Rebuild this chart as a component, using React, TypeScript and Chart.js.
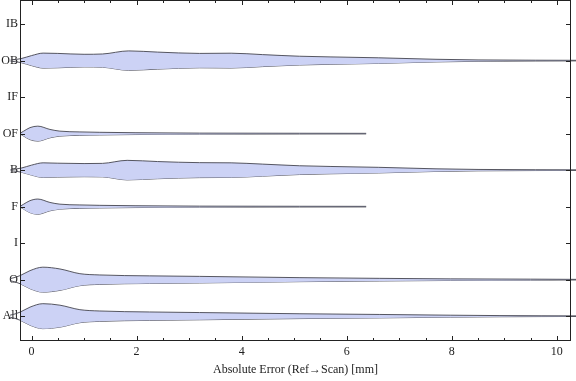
import React, { useEffect, useRef } from 'react';
import { Chart, registerables } from 'chart.js';

Chart.register(...registerables);

// Categories from bottom (value 1) to top (value 9)
const categories = ['All', 'O', 'I', 'F', 'B', 'OF', 'IF', 'OB', 'IB'];
const xTickValues = [0, 2, 4, 6, 8, 10];
const xMinorStep = 0.5;
const xTitle = 'Absolute Error (Ref\u2192Scan) [mm]';

// Violin outlines: x positions (mm) and half-widths (in category units)
const obX = [-0.6, -0.4, -0.2, 0.0, 0.22, 0.5, 1.0, 1.35, 1.85, 2.4, 3.2, 3.8, 4.4, 5.1, 5.7, 6.6, 7.7, 8.5, 9.6, 10.4];
const obW = [0.008, 0.016, 0.055, 0.137, 0.205, 0.197, 0.173, 0.181, 0.266, 0.233, 0.197, 0.203, 0.164, 0.12, 0.101, 0.077, 0.036, 0.019, 0.011, 0.008];

const ofX = [-0.22, -0.15, -0.03, 0.12, 0.35, 0.54, 0.92, 1.3, 1.97, 3.2, 5.1, 6.37];
const ofW = [0.008, 0.068, 0.164, 0.205, 0.115, 0.068, 0.047, 0.036, 0.025, 0.014, 0.01, 0.008];

const bX = [-0.6, -0.4, -0.2, 0.0, 0.22, 0.5, 1.0, 1.35, 1.82, 2.4, 3.2, 3.8, 4.4, 5.1, 5.7, 6.6, 7.7, 8.5, 9.6, 10.4];
const bW = [0.008, 0.016, 0.055, 0.137, 0.2, 0.19, 0.18, 0.185, 0.268, 0.235, 0.205, 0.2, 0.165, 0.12, 0.1, 0.077, 0.036, 0.019, 0.011, 0.008];

const fX = [-0.22, -0.15, -0.03, 0.12, 0.35, 0.54, 0.92, 1.3, 1.97, 3.2, 5.1, 6.37];
const fW = [0.008, 0.068, 0.164, 0.208, 0.115, 0.068, 0.047, 0.036, 0.025, 0.014, 0.01, 0.008];

const oX = [-0.6, -0.41, -0.22, -0.03, 0.215, 0.54, 0.92, 1.3, 2.25, 3.2, 5.11, 6.63, 7.97, 9.5, 10.4];
const oW = [0.008, 0.027, 0.11, 0.247, 0.342, 0.293, 0.164, 0.129, 0.104, 0.09, 0.055, 0.036, 0.022, 0.014, 0.008];

const allX = [-0.6, -0.41, -0.22, -0.03, 0.215, 0.54, 0.92, 1.3, 2.25, 3.2, 5.11, 6.63, 7.97, 8.9, 9.7, 10.4];
const allW = [0.008, 0.027, 0.11, 0.247, 0.342, 0.301, 0.178, 0.142, 0.115, 0.099, 0.066, 0.047, 0.027, 0.016, 0.011, 0.008];

const violins = [
  { cat: 'OB', xs: obX, ws: obW },
  { cat: 'OF', xs: ofX, ws: ofW },
  { cat: 'B', xs: bX, ws: bW },
  { cat: 'F', xs: fX, ws: fW },
  { cat: 'O', xs: oX, ws: oW },
  { cat: 'All', xs: allX, ws: allW },
];

const FILL = 'rgb(204,210,245)';
const EDGE = 'rgba(70,70,80,0.9)';
const FONT = "'Liberation Serif', 'Times New Roman', serif";
const TEXT = '#222';

const framePlugin = {
  id: 'frame',
  afterDraw(chart: any) {
    const { ctx, chartArea: a, scales } = chart;
    const xs = scales.x;
    const ys = scales.y;
    const L = Math.round(a.left) + 0.5;
    const R = Math.round(a.right) - 0.5;
    const T = Math.round(a.top) + 0.5;
    const B = Math.round(a.bottom) - 0.5;
    ctx.save();
    ctx.strokeStyle = '#222';
    ctx.lineWidth = 1;
    ctx.strokeRect(L, T, R - L, B - T);
    ctx.beginPath();
    const first = xTickValues[0];
    const last = xTickValues[xTickValues.length - 1];
    for (let v = first; v <= last + 1e-9; v += xMinorStep) {
      const major = xTickValues.some((t) => Math.abs(t - v) < 1e-9);
      const len = major ? 4.5 : 2.5;
      const px = Math.round(xs.getPixelForValue(v)) + 0.5;
      ctx.moveTo(px, B);
      ctx.lineTo(px, B - len);
      ctx.moveTo(px, T);
      ctx.lineTo(px, T + len);
    }
    categories.forEach((_, i) => {
      const py = Math.round(ys.getPixelForValue(i + 1)) + 0.5;
      ctx.moveTo(L, py);
      ctx.lineTo(L + 4.5, py);
      ctx.moveTo(R, py);
      ctx.lineTo(R - 4.5, py);
    });
    ctx.stroke();
    ctx.restore();
  },
};

export default function App() {
  const ref = useRef<HTMLCanvasElement | null>(null);

  useEffect(() => {
    if (!ref.current) return;
    const datasets: any[] = [];
    violins.forEach((v) => {
      const c = categories.indexOf(v.cat) + 1;
      const common = {
        borderColor: EDGE,
        borderWidth: 1,
        pointRadius: 0,
        pointHoverRadius: 0,
        cubicInterpolationMode: 'monotone',
        clip: false,
      };
      datasets.push({
        ...common,
        label: v.cat + ' upper',
        data: v.xs.map((x, i) => ({ x, y: c + v.ws[i] })),
        fill: '+1',
        backgroundColor: FILL,
      });
      datasets.push({
        ...common,
        label: v.cat + ' lower',
        data: v.xs.map((x, i) => ({ x, y: c - v.ws[i] })),
        fill: false,
        backgroundColor: FILL,
      });
    });

    const chart = new Chart(ref.current, {
      type: 'line',
      data: { datasets },
      options: {
        animation: false,
        responsive: false,
        maintainAspectRatio: false,
        events: [],
        layout: { padding: { left: 0, right: 5, top: 0, bottom: 0 } },
        plugins: {
          legend: { display: false },
          tooltip: { enabled: false },
        },
        scales: {
          x: {
            type: 'linear',
            position: 'bottom',
            min: -0.22,
            max: 10.27,
            afterBuildTicks: (s: any) => {
              s.ticks = xTickValues.map((value) => ({ value }));
            },
            afterFit: (s: any) => {
              s.height = 40;
              s.paddingLeft = 0;
              s.paddingRight = 0;
            },
            grid: { display: false, drawTicks: false },
            border: { display: false },
            ticks: {
              padding: 4,
              color: TEXT,
              font: { family: FONT, size: 12 },
              maxRotation: 0,
              autoSkip: false,
            },
            title: {
              display: true,
              text: xTitle,
              color: TEXT,
              font: { family: FONT, size: 12 },
              padding: { top: 2, bottom: 4 },
            },
          },
          y: {
            type: 'linear',
            min: 0.32,
            max: 9.66,
            afterBuildTicks: (s: any) => {
              s.ticks = categories.map((_, i) => ({ value: i + 1 }));
            },
            afterFit: (s: any) => {
              s.width = 20;
              s.paddingTop = 0;
              s.paddingBottom = 0;
            },
            grid: { display: false, drawTicks: false },
            border: { display: false },
            ticks: {
              padding: 2,
              color: TEXT,
              font: { family: FONT, size: 12 },
              autoSkip: false,
              callback: (val: any) => categories[Math.round(Number(val)) - 1] ?? '',
            },
          },
        },
      },
      plugins: [framePlugin],
    } as any);
    return () => chart.destroy();
  }, []);

  return (
    <div style={{ position: 'fixed', left: 0, top: 0, width: 576, height: 381, background: '#fff' }}>
      <canvas ref={ref} width={576} height={381} style={{ display: 'block', width: 576, height: 381 }} />
    </div>
  );
}
